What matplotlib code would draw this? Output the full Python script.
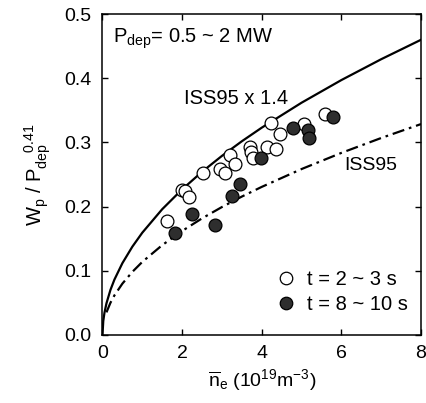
import matplotlib
matplotlib.use("Agg")
import matplotlib.pyplot as plt
from matplotlib.lines import Line2D

plt.rcParams['font.family'] = ['Liberation Sans', 'DejaVu Sans']
plt.rcParams['mathtext.fontset'] = 'custom'
plt.rcParams['mathtext.rm'] = 'Liberation Sans'
plt.rcParams['mathtext.it'] = 'Liberation Sans:italic'
plt.rcParams['mathtext.bf'] = 'Liberation Sans:bold'

# Open circles: t = 2 ~ 3 s
early_n = [1.61, 1.99, 2.08, 2.18, 2.53, 2.95, 3.08, 3.20, 3.33, 3.70, 3.73, 3.77,
           4.12, 4.22, 4.37, 4.47, 5.06, 5.59]
early_w = [0.177, 0.226, 0.224, 0.215, 0.252, 0.259, 0.252, 0.280, 0.267, 0.293, 0.285, 0.275,
           0.293, 0.330, 0.289, 0.313, 0.328, 0.345]

# Filled circles: t = 8 ~ 10 s
late_n = [1.82, 2.24, 2.83, 3.26, 3.45, 3.98, 4.79, 5.16, 5.19, 5.79]
late_w = [0.159, 0.189, 0.172, 0.216, 0.235, 0.276, 0.323, 0.320, 0.307, 0.340]

# Curves
curve_n = [0.0, 0.02, 0.05, 0.1, 0.2, 0.3, 0.5, 0.75, 1.0, 1.5, 2.0, 2.5, 3.0, 3.5, 4.0,
           5.0, 6.0, 7.0, 8.0]
iss14_w = [0.0, 0.0217, 0.0346, 0.0492, 0.0701, 0.0862, 0.1118, 0.1375, 0.1593, 0.1959,
           0.2268, 0.2542, 0.2790, 0.3018, 0.3230, 0.3619, 0.3972, 0.4297, 0.4600]
iss95_n = [0.1, 0.2, 0.3, 0.5, 0.75, 1.0, 1.5, 2.0, 2.5, 3.0, 3.5, 4.0, 5.0, 6.0, 7.0, 8.0]
iss95_w = [0.0351, 0.0501, 0.0616, 0.0799, 0.0982, 0.1138, 0.1399, 0.1620, 0.1816, 0.1993,
           0.2156, 0.2307, 0.2585, 0.2837, 0.3069, 0.3286]

xticks = [0, 2, 4, 6, 8]
yticks = [0.0, 0.1, 0.2, 0.3, 0.4, 0.5]
ytick_labels = ['0.0', '0.1', '0.2', '0.3', '0.4', '0.5']

FS = 14

fig = plt.figure(figsize=(4.27, 4.03), dpi=100)
ax = fig.add_axes([0.240, 0.169, 0.746, 0.796])

ax.plot(curve_n, iss14_w, color='black', lw=1.6, zorder=2)
ax.plot(iss95_n, iss95_w, color='black', lw=1.6, linestyle=(0, (5.5, 2.2, 1.2, 2.2)), zorder=2)

ax.scatter(early_n, early_w, s=85, facecolor='white', edgecolor='black', linewidths=0.9, zorder=3)
ax.scatter(late_n, late_w, s=85, facecolor='#2e2e2e', edgecolor='black', linewidths=0.9, zorder=4)

ax.set_xlim(0, 8)
ax.set_ylim(0, 0.5)
ax.set_xticks(xticks)
ax.set_xticklabels([str(v) for v in xticks])
ax.set_yticks(yticks)
ax.set_yticklabels(ytick_labels)
ax.tick_params(axis='x', pad=7)
ax.tick_params(axis='y', pad=8)
ax.tick_params(direction='in', top=True, right=True, length=4, width=1, labelsize=FS)
for s in ax.spines.values():
    s.set_linewidth(1.1)

ax.set_xlabel(r'$\overline{\mathrm{n}}_{\mathrm{e}}$ (10$^{\mathrm{19}}$m$^{-3}$)', fontsize=14, labelpad=4)
ax.set_ylabel(r'W$_{\mathrm{p}}$ / P$_{\mathrm{dep}}^{\ \ \ \ \mathrm{0.41}}$', fontsize=14.5, labelpad=8)

ax.text(0.27, 0.462, r'P$_{\mathrm{dep}}$= 0.5 ~ 2 MW', fontsize=14.5, va='center', ha='left')
ax.text(2.05, 0.369, 'ISS95 x 1.4', fontsize=14.5, va='center', ha='left')
ax.text(6.08, 0.264, 'ISS95', fontsize=FS, va='center', ha='left')

handles = [Line2D([], [], marker='o', linestyle='none', markersize=9, markerfacecolor='white',
                  markeredgecolor='black', markeredgewidth=0.9),
           Line2D([], [], marker='o', linestyle='none', markersize=9, markerfacecolor='#2e2e2e',
                  markeredgecolor='black', markeredgewidth=0.9)]
ax.legend(handles, ['t = 2 ~ 3 s', 't = 8 ~ 10 s'], loc='lower right', frameon=False,
          fontsize=14.5, handletextpad=0.45, handlelength=1.2, borderaxespad=0.0, labelspacing=0.3,
          bbox_to_anchor=(0.985, 0.04))

fig.savefig('out.png', dpi=100)
